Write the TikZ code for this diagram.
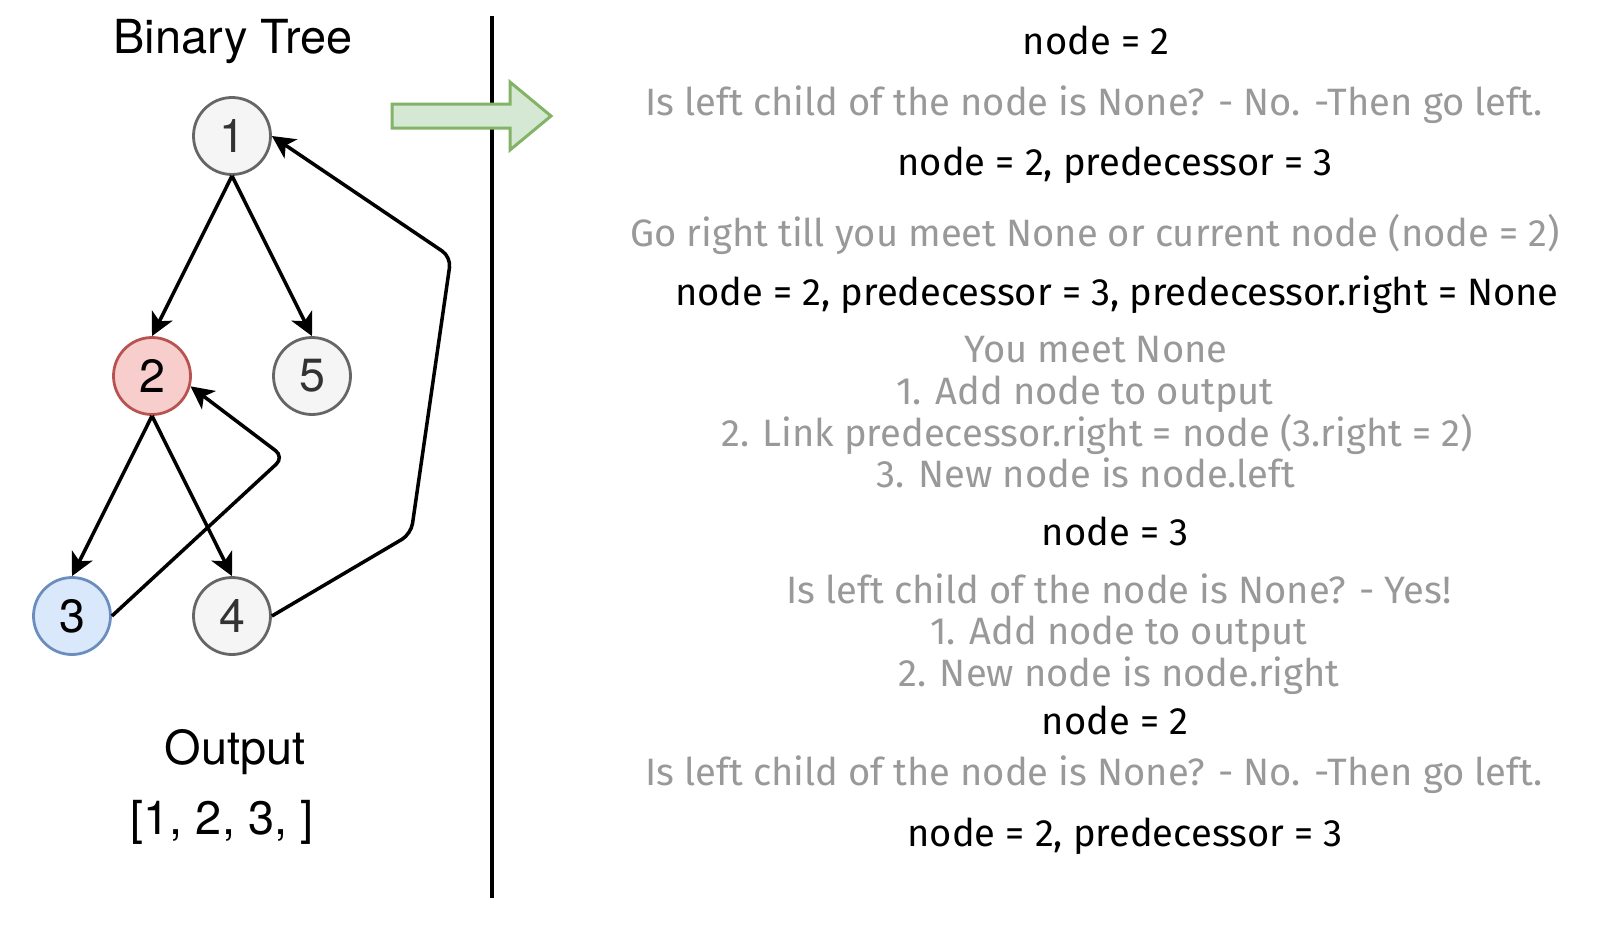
\documentclass[tikz,border=0pt]{standalone}
\usepackage{fontspec}
\setmainfont{TeX Gyre Heros}
\newfontfamily\handfont{Fira Sans}
\usepackage{tikz}
\usepackage{xcolor}
\usetikzlibrary{positioning,arrows.meta}

\definecolor{nodegray}{HTML}{F5F5F5}
\definecolor{rimgray}{HTML}{666666}
\definecolor{numgray}{HTML}{333333}
\definecolor{redfill}{HTML}{F8CECC}
\definecolor{redrim}{HTML}{B85450}
\definecolor{bluefill}{HTML}{DAE8FC}
\definecolor{bluerim}{HTML}{6C8EBF}
\definecolor{greenfill}{HTML}{D5E8D4}
\definecolor{greenrim}{HTML}{82B366}
\definecolor{notegray}{HTML}{999999}

\tikzset{
  tnode/.style={circle, draw=rimgray, fill=nodegray, text=numgray, line width=1.6pt,
    minimum size=1.54cm, inner sep=0pt, font=\fontsize{26.5}{30}\selectfont},
  link/.style={-{Stealth[length=13pt, width=13pt, inset=3.5pt]}, line width=2pt, rounded corners=6pt},
  stepline/.style={anchor=base, inner sep=0pt, font=\handfont\fontsize{21.7}{25}\selectfont},
  title/.style={anchor=base, inner sep=0pt, font=\fontsize{26.7}{30}\selectfont}
}

\begin{document}
\begin{tikzpicture}[x=0.02cm, y=-0.02cm]
    \useasboundingbox (0,0) rectangle (1604,934);
    % left side: the tree
    \node[title] (btitle) at (233,53) {Binary Tree};
    \node[tnode] (n1) at (232,136) {1};
    \node[tnode, draw=redrim, fill=redfill, text=black] (n2) at (152,376) {2};
    \node[tnode] (n5) at (312,376) {5};
    \node[tnode, draw=bluerim, fill=bluefill, text=black] (n3) at (72,616) {3};
    \node[tnode] (n4) at (232,616) {4};
    \coordinate (b1) at (284,457);
    \coordinate (b2) at (411,534);
    \coordinate (b3) at (451,257);
    \draw[link] (n1.south) -- (n2.north);
    \draw[link] (n1.south) -- (n5.north);
    \draw[link] (n2.south) -- (n3.north);
    \draw[link] (n2.south) -- (n4.north);
    \draw[link] (n3.east) -- (b1) -- (n2.-15);
    \draw[link] (n4.east) -- (b2) -- (b3) -- (n1.east);
    \node[title] (otitle) at (235,764) {Output};
    \node[title] (olist) at (222,834) {[1, 2, 3, ]};
    % divider and arrow
    \draw[line width=2.3pt] (492,16) -- (492,898);
    \draw[line width=1.7pt, draw=greenrim, fill=greenfill, line join=miter]
      (392,104) -- (510,104) -- (510,82) -- (551,116) -- (510,150) -- (510,128) -- (392,128) -- cycle;
    % right side: the steps
    \foreach \xx/\yy/\txt/\col [count=\i] in {
        1096/54/{node = 2}/black,
        1094/115/{Is left child of the node is None? - No. -Then go left.}/notegray,
        1115/175/{node = 2, predecessor = 3}/black,
        1095/246/{Go right till you meet None or current node (node = 2)}/notegray,
        1117/305/{node = 2, predecessor = 3, predecessor.right = None}/black,
        1096/362/{You meet None}/notegray,
        1085/404/{1. Add node to output}/notegray,
        1097/446/{2. Link predecessor.right = node (3.right = 2)}/notegray,
        1086/487/{3. New node is node.left}/notegray,
        1115/545/{node = 3}/black,
        1119/603/{Is left child of the node is None? - Yes!}/notegray,
        1119/644/{1. Add node to output}/notegray,
        1119/686/{2. New node is node.right}/notegray,
        1115/734/{node = 2}/black,
        1094/785/{Is left child of the node is None? - No. -Then go left.}/notegray,
        1125/846/{node = 2, predecessor = 3}/black} {
        \node[stepline, text=\col] (s\i) at (\xx,\yy) {\txt};
    }
\end{tikzpicture}
\end{document}
